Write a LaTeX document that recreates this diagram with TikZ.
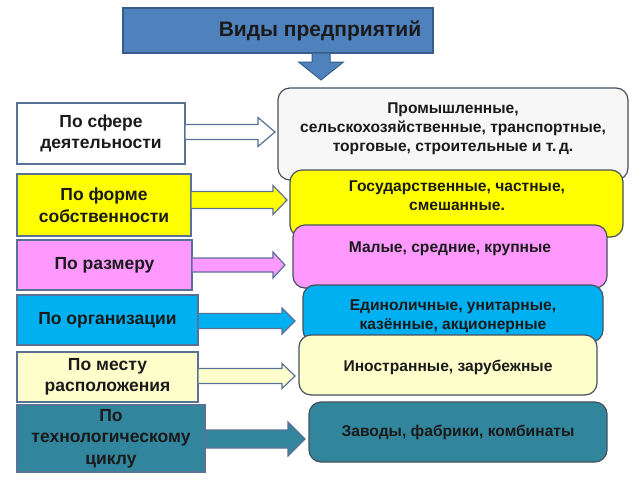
\documentclass[tikz,border=0pt]{standalone}
\usepackage{fontspec}
\setmainfont{Liberation Sans}
\usetikzlibrary{calc}
\definecolor{titleblue}{HTML}{4F81BD}
\definecolor{titleedge}{HTML}{385D8A}
\definecolor{ledge}{HTML}{5A7196}
\definecolor{redge}{HTML}{46505C}
\definecolor{cwhite}{HTML}{FFFFFF}
\definecolor{cwhite2}{HTML}{F7F7F7}
\definecolor{cyellow}{HTML}{FFFF00}
\definecolor{cpink}{HTML}{FF99FF}
\definecolor{ccyan}{HTML}{00B0F0}
\definecolor{clight}{HTML}{FFFFCC}
\definecolor{cteal}{HTML}{31859C}
\definecolor{txt}{HTML}{1A1A1A}
\tikzset{
  lbox/.style={draw=ledge, line width=1.2pt, rectangle, inner sep=0pt, align=center,
    text=txt, font=\fontsize{17.5}{21.5}\selectfont\bfseries},
  rbox/.style={draw=redge, line width=1.2pt, rectangle, rounded corners=12pt, inner sep=0pt},
  rtext/.style={align=center, text=txt, inner sep=0pt, font=\fontsize{15.6}{18.8}\selectfont\bfseries},
  barrow/.style={draw=ledge, line width=1.2pt, line join=miter},
}
% #1 start node, #2 tip coordinate, #3 shaft half, #4 head half, #5 head length, #6 fill
\newcommand{\blockarr}[6]{%
  \filldraw[barrow, fill=#6]
    ($(#1.east|-#2)+(0,-#3)$) -- ($(#2)+(-#5,-#3)$) -- ($(#2)+(-#5,-#4)$) -- (#2)
    -- ($(#2)+(-#5,#4)$) -- ($(#2)+(-#5,#3)$) -- ($(#1.east|-#2)+(0,#3)$);}
\begin{document}
\begin{tikzpicture}[x=1pt,y=-1pt]
\useasboundingbox (0,0) rectangle (640,480);
\fill[white] (0,0) rectangle (640,480);

% title
\node[draw=titleedge, line width=1.2pt, fill=titleblue, minimum width=310, minimum height=45, inner sep=0pt] (title) at (278,30.5) {};
\node[text=txt, inner sep=0pt, font=\fontsize{21}{24}\selectfont\bfseries] (titletext) at (320,31) {Виды предприятий};
\coordinate (dtip) at (321,80);
\filldraw[draw=titleedge, line width=1pt, fill=titleblue]
  ($(dtip|-title.south)+(-9,0)$) -- ($(dtip)+(-9,-18)$) -- ($(dtip)+(-22.5,-18)$) -- (dtip)
  -- ($(dtip)+(22.5,-18)$) -- ($(dtip)+(9,-18)$) -- ($(dtip|-title.south)+(9,0)$);

% right boxes (drawn in overlap order)
\node[rbox, fill=cwhite2, minimum width=350, minimum height=92] (R1) at (453,134) {};
\node[rtext] (R1t) at (453,128.5) {Промышленные,\\сельскохозяйственные, транспортные,\\торговые, строительные и т.\,д.};
\node[rbox, fill=cyellow, minimum width=333, minimum height=67] (R2) at (456.5,203.5) {};
\node[rtext] (R2t) at (457,196) {Государственные, частные,\\смешанные.};
\node[rbox, fill=cpink, minimum width=314, minimum height=63] (R3) at (450,256.5) {};
\node[rtext] (R3t) at (450,249) {Малые, средние, крупные};
\node[rbox, fill=ccyan, minimum width=300, minimum height=57] (R4) at (453,313.5) {};
\node[rtext] (R4t) at (453,316.5) {Единоличные, унитарные,\\казённые, акционерные};
\node[rbox, fill=clight, minimum width=298, minimum height=60] (R5) at (448,365) {};
\node[rtext] (R5t) at (448,367) {Иностранные, зарубежные};
\node[rbox, fill=cteal, minimum width=298, minimum height=60] (R6) at (458,432) {};
\node[rtext] (R6t) at (458,432) {Заводы, фабрики, комбинаты};

% left boxes
\node[lbox, fill=cwhite, minimum width=168, minimum height=61] (L1) at (101,133.5) {По сфере\\деятельности};
\node[lbox, fill=cyellow, minimum width=174, minimum height=62] (L2) at (104,205) {По форме\\собственности};
\node[lbox, fill=cpink, minimum width=175, minimum height=50] (L3) at (104.5,265) {По размеру};
\node[lbox, fill=ccyan, minimum width=181, minimum height=50] (L4) at (107.5,320) {По организации};
\node[lbox, fill=clight, minimum width=181, minimum height=50] (L5) at (107.5,377) {По месту\\расположения};
\node[lbox, fill=cteal, minimum width=188, minimum height=67] (L6) at (111,438.5) {По\\технологическому\\циклу};

% block arrows
\coordinate (t1) at (275,132);
\coordinate (t2) at (287,200);
\coordinate (t3) at (285,265);
\coordinate (t4) at (295,321);
\coordinate (t5) at (295,376);
\coordinate (t6) at (305,439);
\blockarr{L1}{t1}{7.5}{14.5}{17}{cwhite}
\blockarr{L2}{t2}{8.5}{14.5}{14}{cyellow}
\blockarr{L3}{t3}{7}{13}{12}{cpink}
\blockarr{L4}{t4}{7.5}{13}{13}{ccyan}
\blockarr{L5}{t5}{7.5}{12.5}{13}{clight}
\blockarr{L6}{t6}{9}{17}{17}{cteal}
\end{tikzpicture}
\end{document}
